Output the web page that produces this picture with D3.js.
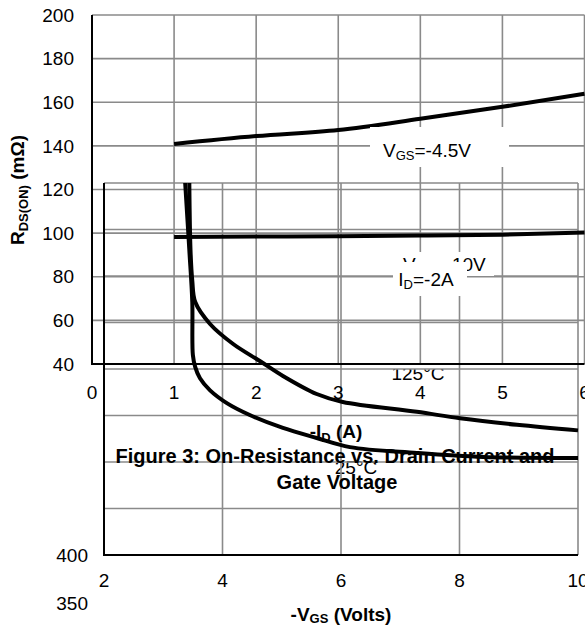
<!DOCTYPE html>
<html>
<head>
<meta charset="utf-8">
<script src="https://cdn.jsdelivr.net/npm/d3@7"></script>
<style>
  body { margin: 0; background: #fff; }
  text { font-family: "Liberation Sans", Arial, sans-serif; fill: #000; }
</style>
</head>
<body>
<script>
// drain current chart (Figure 3)
var idAmps = [1, 2, 3, 4, 5, 6];
var rdsVgs45 = [140.9, 144.5, 147.3, 152.4, 157.9, 163.9];
var rdsVgs10 = [98.2, 98.4, 98.6, 98.9, 99.3, 100.3];
var idTicks = [0, 1, 2, 3, 4, 5, 6];
var rdsTicksA = [40, 60, 80, 100, 120, 140, 160, 180, 200];

// gate voltage chart
var vgs125 = [3.44, 3.46, 3.49, 3.54, 3.79, 4.18, 4.63, 5.02, 5.59, 6.03, 7.28, 8.01, 8.97, 10.0];
var rds125 = [400, 328, 295, 272, 248.4, 226.9, 208.6, 192.5, 173.1, 164.5, 154, 147, 140, 134];
var vgs25 = [3.37, 3.44, 3.49, 3.5, 3.54, 3.62, 3.79, 4.08, 4.46, 5.02, 5.59, 6.15, 7.28, 8.4, 10.0];
var rds25 = [400, 328, 272, 215, 202, 190, 177, 163, 150.5, 136.6, 125.8, 116, 109.7, 105.4, 104.3];
var vgsTicks = [2, 4, 6, 8, 10];
var rdsGridB = [50, 100, 150, 200, 250, 300, 350, 400];
var rdsLabelsB = [400, 350];

var width = 585;
var height = 630;
var gridColor = "#8a8a8a";

var svg = d3.select("body").append("svg")
  .attr("width", width)
  .attr("height", height);

var xA = d3.scaleLinear().domain([0, 6]).range([92, 584.5]);
var yA = d3.scaleLinear().domain([40, 200]).range([364, 15]);
var xB = d3.scaleLinear().domain([2, 10]).range([104, 578]);
var yB = d3.scaleLinear().domain([0, 400]).range([555, 183]);
var yBLab = d3.scaleLinear().domain([350, 400]).range([603, 555]);

// temperature labels sit under the grid
svg.append("text").attr("x", 418).attr("y", 380).attr("text-anchor", "middle")
  .style("font-size", "19px").text("125°C");
svg.append("text").attr("x", 356).attr("y", 474).attr("text-anchor", "middle")
  .style("font-size", "19px").text("25°C");
svg.append("rect").attr("x", 380).attr("y", 364).attr("width", 80).attr("height", 5).attr("fill", "#fff");

// grid A
var gA = svg.append("g").attr("stroke", gridColor).attr("stroke-width", 1.6);
gA.selectAll("line.v").data(idTicks.slice(1)).enter().append("line")
  .attr("x1", function(d) { return xA(d); }).attr("x2", function(d) { return xA(d); })
  .attr("y1", yA(40)).attr("y2", yA(200));
gA.selectAll("line.h").data(rdsTicksA.slice(1)).enter().append("line")
  .attr("x1", xA(0)).attr("x2", xA(6))
  .attr("y1", function(d) { return yA(d); }).attr("y2", function(d) { return yA(d); });

// grid B
var gB = svg.append("g").attr("stroke", gridColor).attr("stroke-width", 1.6);
gB.selectAll("line.v").data(vgsTicks.slice(1)).enter().append("line")
  .attr("x1", function(d) { return xB(d); }).attr("x2", function(d) { return xB(d); })
  .attr("y1", yB(0)).attr("y2", yB(400));
gB.selectAll("line.h").data(rdsGridB).enter().append("line")
  .attr("x1", xB(2)).attr("x2", xB(10))
  .attr("y1", function(d) { return yB(d); }).attr("y2", function(d) { return yB(d); });

// black axes
var ax = svg.append("g").attr("stroke", "#000").attr("stroke-width", 2);
ax.append("line").attr("x1", xA(0)).attr("x2", xA(0)).attr("y1", yA(200)).attr("y2", yA(40) + 1);
ax.append("line").attr("x1", xA(0)).attr("x2", xA(6)).attr("y1", yA(40)).attr("y2", yA(40));
ax.append("line").attr("x1", xB(2)).attr("x2", xB(2)).attr("y1", yB(400)).attr("y2", yB(0) + 1);
ax.append("line").attr("x1", xB(2)).attr("x2", xB(10)).attr("y1", yB(0)).attr("y2", yB(0));

// tick labels
svg.selectAll("text.ya").data(rdsTicksA).enter().append("text")
  .attr("x", 74).attr("y", function(d) { return yA(d); })
  .attr("dy", "0.35em").attr("text-anchor", "end")
  .style("font-size", "19px").text(function(d) { return d; });
svg.selectAll("text.xa").data(idTicks).enter().append("text")
  .attr("x", function(d) { return xA(d); }).attr("y", 392)
  .attr("dy", "0.35em").attr("text-anchor", "middle")
  .style("font-size", "19px").text(function(d) { return d; });
svg.selectAll("text.xb").data(vgsTicks).enter().append("text")
  .attr("x", function(d) { return xB(d); }).attr("y", 580)
  .attr("dy", "0.35em").attr("text-anchor", "middle")
  .style("font-size", "19px").text(function(d) { return d; });
svg.selectAll("text.yb").data(rdsLabelsB).enter().append("text")
  .attr("x", 88).attr("y", function(d) { return yBLab(d); })
  .attr("dy", "0.35em").attr("text-anchor", "end")
  .style("font-size", "19px").text(function(d) { return d; });

// axis titles
var yt = svg.append("text")
  .attr("transform", "translate(24,190) rotate(-90)")
  .attr("text-anchor", "middle")
  .style("font-size", "19px").style("font-weight", "bold");
yt.append("tspan").text("R");
yt.append("tspan").attr("dy", 4).style("font-size", "13px").text("DS(ON)");
yt.append("tspan").attr("dy", -4).text(" (mΩ)");

var xt = svg.append("text").attr("x", 336).attr("y", 438).attr("text-anchor", "middle")
  .style("font-size", "19px").style("font-weight", "bold");
xt.append("tspan").text("-I");
xt.append("tspan").attr("dy", 4).style("font-size", "13px").text("D");
xt.append("tspan").attr("dy", -4).text(" (A)");

var vt = svg.append("text").attr("x", 341).attr("y", 621).attr("text-anchor", "middle")
  .style("font-size", "19px").style("font-weight", "bold");
vt.append("tspan").text("-V");
vt.append("tspan").attr("dy", 2).style("font-size", "13px").text("GS");
vt.append("tspan").attr("dy", -2).text(" (Volts)");

// figure caption
svg.append("text").attr("x", 335).attr("y", 463).attr("text-anchor", "middle")
  .style("font-size", "20px").style("font-weight", "bold")
  .text("Figure 3: On-Resistance vs. Drain Current and");
svg.append("text").attr("x", 337).attr("y", 489).attr("text-anchor", "middle")
  .style("font-size", "20px").style("font-weight", "bold")
  .text("Gate Voltage");

// curves
var lineA = d3.line()
  .x(function(d) { return xA(d[0]); })
  .y(function(d) { return yA(d[1]); })
  .curve(d3.curveMonotoneX);
var lineB = d3.line()
  .x(function(d) { return xB(d[0]); })
  .y(function(d) { return yB(d[1]); })
  .curve(d3.curveCatmullRom.alpha(0.5));

var seriesA = [d3.zip(idAmps, rdsVgs45), d3.zip(idAmps, rdsVgs10)];
var seriesB = [d3.zip(vgs125, rds125), d3.zip(vgs25, rds25)];

svg.selectAll("path.a").data(seriesA).enter().append("path")
  .attr("d", lineA).attr("fill", "none").attr("stroke", "#000").attr("stroke-width", 4);
svg.selectAll("path.b").data(seriesB).enter().append("path")
  .attr("d", lineB).attr("fill", "none").attr("stroke", "#000").attr("stroke-width", 4);

// boxed labels
function boxLabel(x0, y0, w, h, tx, ty, main, sub, rest, anchor) {
  svg.append("rect").attr("x", x0).attr("y", y0).attr("width", w).attr("height", h).attr("fill", "#fff");
  var t = svg.append("text").attr("x", tx).attr("y", ty).attr("text-anchor", anchor)
    .style("font-size", "19px");
  t.append("tspan").text(main);
  t.append("tspan").attr("dy", 3).style("font-size", "13px").text(sub);
  t.append("tspan").attr("dy", -3).text(rest);
}
boxLabel(370, 127, 139, 40, 427, 157, "V", "GS", "=-4.5V", "middle");
boxLabel(398, 252, 96, 24, 403, 271, "V", "GS", "=-10V", "start");
boxLabel(393, 262, 74, 34, 426, 286, "I", "D", "=-2A", "middle");
</script>
</body>
</html>
